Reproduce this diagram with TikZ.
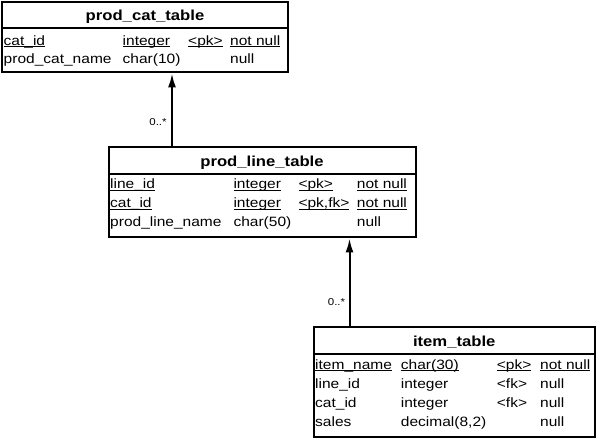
\documentclass[tikz,border=0pt]{standalone}
\usepackage{fontspec}
\setmainfont[FakeStretch=1.15]{Liberation Sans}
\usepackage{tikz}
\usetikzlibrary{arrows.meta,positioning}
\newsavebox{\keybox}
\newcommand{\keyul}[1]{\sbox{\keybox}{#1}\rlap{\rule[-1.8pt]{\wd\keybox}{0.9pt}}\usebox{\keybox}}
\tikzstyle{tab} = [draw, line width=2pt, inner sep=0pt, anchor=north west]
\tikzstyle{tabname} = [font=\bfseries\fontsize{14.5}{14.5}\selectfont, anchor=base, inner sep=0pt]
\tikzstyle{col} = [font=\fontsize{13.5}{13.5}\selectfont, anchor=base west, inner sep=0pt]
\tikzstyle{card} = [font=\fontsize{10}{10}\selectfont, inner sep=0pt]
\tikzstyle{hline} = [draw, line width=2pt]
\tikzstyle{fkedge} = [draw, line width=2pt, -{Latex[length=14pt,width=8pt]}]

\begin{document}
\begin{tikzpicture}[x=1pt, y=-1pt]
\useasboundingbox (0,0) rectangle (597,438);

% tables =============================

% prod_cat_table
\node[tab, minimum width=286pt, minimum height=70.5pt] (cattab) at (1,1) {};
\node[tabname] (catname) at (cattab.north |- 0,21) {prod\_cat\_table};
\path[hline] (cattab.west |- 0,28) -- (cattab.east |- 0,28);
\node[col] (cid) at (3.5,45.5) {\keyul{cat\_id}};
\node[col] (cidtype) at (122.5,45.5) {\keyul{integer}};
\node[col] (cidkey) at (188,45.5) {\keyul{<pk>}};
\node[col] (cidnull) at (230,45.5) {\keyul{not null}};
\node[col] (cname) at (3.5,64) {prod\_cat\_name};
\node[col] (cnametype) at (122.5,64) {char(10)};
\node[col] (cnamenull) at (230,64) {null};

% prod_line_table
\node[tab, minimum width=307pt, minimum height=90pt] (linetab) at (107.5,146.5) {};
\node[tabname] (linename) at (linetab.north |- 0,166.5) {prod\_line\_table};
\path[hline] (linetab.west |- 0,174) -- (linetab.east |- 0,174);
\node[col] (lid) at (110,189) {\keyul{line\_id}};
\node[col] (lidtype) at (233.3,189) {\keyul{integer}};
\node[col] (lidkey) at (298.3,189) {\keyul{<pk>}};
\node[col] (lidnull) at (356.7,189) {\keyul{not null}};
\node[col] (lcid) at (110,208) {\keyul{cat\_id}};
\node[col] (lcidtype) at (233.3,208) {\keyul{integer}};
\node[col] (lcidkey) at (298.3,208) {\keyul{<pk,fk>}};
\node[col] (lcidnull) at (356.7,208) {\keyul{not null}};
\node[col] (lname) at (110,227) {prod\_line\_name};
\node[col] (lnametype) at (233.3,227) {char(50)};
\node[col] (lnamenull) at (356.7,227) {null};

% item_table
\node[tab, minimum width=281.5pt, minimum height=110pt] (itemtab) at (312.5,326) {};
\node[tabname] (itemname) at (itemtab.north |- 0,346.5) {item\_table};
\path[hline] (itemtab.west |- 0,354) -- (itemtab.east |- 0,354);
\node[col] (iname) at (315,369) {\keyul{item\_name}};
\node[col] (inametype) at (400.7,369) {\keyul{char(30)}};
\node[col] (inamekey) at (496.7,369) {\keyul{<pk>}};
\node[col] (inamenull) at (540,369) {\keyul{not null}};
\node[col] (ilid) at (315,388) {line\_id};
\node[col] (ilidtype) at (400.7,388) {integer};
\node[col] (ilidkey) at (496.7,388) {<fk>};
\node[col] (ilidnull) at (540,388) {null};
\node[col] (icid) at (315,407) {cat\_id};
\node[col] (icidtype) at (400.7,407) {integer};
\node[col] (icidkey) at (496.7,407) {<fk>};
\node[col] (icidnull) at (540,407) {null};
\node[col] (isales) at (315,426.5) {sales};
\node[col] (isalestype) at (400.7,426.5) {decimal(8,2)};
\node[col] (isalesnull) at (540,426.5) {null};

% references
\node[card] (card1) at (158,122) {0..*};
\node[card] (card2) at (336.5,302) {0..*};

%edges
\path[fkedge] (linetab.north -| 172,0) -- (cattab.south -| 172,0);
\path[fkedge] (itemtab.north -| 349.5,0) -- (linetab.south -| 349.5,0);

\end{tikzpicture}
\end{document}
